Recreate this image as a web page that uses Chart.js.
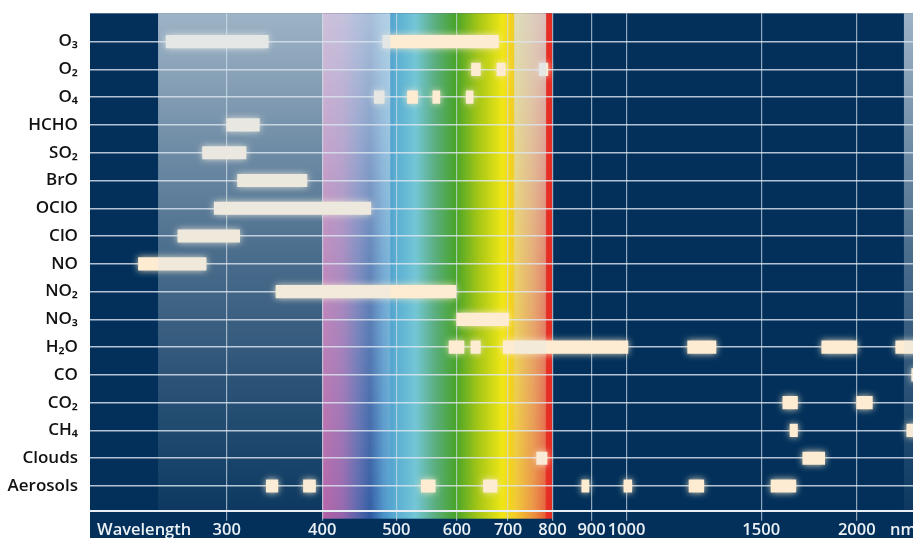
<!DOCTYPE html>
<html>
<head>
<meta charset="utf-8">
<script src="https://cdn.jsdelivr.net/npm/chart.js@4.4.1/dist/chart.umd.min.js"></script>
<style>
  html, body { margin: 0; padding: 0; background: #fff; }
  #wrap { width: 913px; height: 538px; position: relative; }
</style>
</head>
<body>
<div id="wrap"><canvas id="chart"></canvas></div>
<script>
// absorbers, top to bottom
const categories = ['O₃', 'O₂', 'O₄', 'HCHO', 'SO₂', 'BrO', 'OClO', 'ClO', 'NO', 'NO₂', 'NO₃', 'H₂O', 'CO', 'CO₂', 'CH₄', 'Clouds', 'Aerosols'];

// fitting windows in nm, same order as categories
const windows = [
    [[250, 340], [480, 680]],
    [[627, 644], [677, 694], [769, 789]],
    [[468, 482], [517, 533], [558, 570], [617, 630]],
    [[300, 331]],
    [[279, 318]],
    [[310, 382]],
    [[289, 463]],
    [[259, 312]],
    [[230, 282]],
    [[348, 598]],
    [[600, 701]],
    [[586, 613], [626, 644], [690, 1004], [1202, 1309], [1800, 2000], [2249, 2500]],
    [[2360, 2500]],
    [[1601, 1673], [2000, 2096]],
    [[1636, 1673], [2325, 2500]],
    [[763, 787], [1700, 1816]],
    [[338, 350], [378, 392], [539, 562], [650, 677], [874, 893], [992, 1016], [1207, 1262], [1545, 1665]]
];

// x axis ticks (nm) and their labels
const tickValues = [234, 300, 400, 500, 600, 700, 800, 900, 1000, 1500, 2000, 2300];
const tickLabels = ['Wavelength', '300', '400', '500', '600', '700', '800', '900', '1000', '1500', '2000', 'nm'];

// pale instrument windows and visible spectrum (nm)
const paleRanges = [[244, 491], [713, 785], [2305, 3000]];
const visibleRange = [400, 800];
const spectrumStops = [
    [400, 'rgb(182,96,166)'], [425, 'rgb(150,100,172)'], [445, 'rgb(90,100,172)'],
    [462, 'rgb(45,88,160)'], [480, 'rgb(72,142,198)'], [497, 'rgb(88,172,210)'],
    [530, 'rgb(116,198,214)'], [562, 'rgb(90,174,126)'], [598, 'rgb(72,164,42)'],
    [640, 'rgb(166,198,22)'], [688, 'rgb(240,230,22)'], [715, 'rgb(242,202,42)'],
    [755, 'rgb(236,146,62)'], [782, 'rgb(232,96,54)'], [786, 'rgb(230,46,36)'], [800, 'rgb(230,46,36)']
];

const navy = '#02305a';

const barData = [];
windows.forEach((list, i) => {
    list.forEach(range => barData.push({ y: i + 1, x: range }));
});

// background, spectrum and pale windows
const backdrop = {
    id: 'backdrop',
    beforeDraw(chart) {
        const { ctx, chartArea: a } = chart;
        const x = chart.scales.x;
        ctx.save();
        ctx.fillStyle = navy;
        ctx.fillRect(a.left, a.top, chart.width - a.left, chart.height - a.top);
        const x0 = x.getPixelForValue(visibleRange[0]);
        const x1 = x.getPixelForValue(visibleRange[1]);
        const g = ctx.createLinearGradient(x0, 0, x1, 0);
        spectrumStops.forEach(([nm, col]) => {
            g.addColorStop((x.getPixelForValue(nm) - x0) / (x1 - x0), col);
        });
        ctx.fillStyle = g;
        ctx.fillRect(x0, a.top, x1 - x0, a.bottom - a.top + 8);
        ctx.restore();
    },
    afterDatasetsDraw(chart) {
        const { ctx, chartArea: a } = chart;
        const x = chart.scales.x;
        ctx.save();
        paleRanges.forEach(([lo, hi]) => {
            const xl = Math.max(x.getPixelForValue(lo), a.left);
            const xr = Math.min(x.getPixelForValue(hi), a.right);
            const g = ctx.createLinearGradient(0, a.top, 0, a.bottom);
            g.addColorStop(0, 'rgba(215,228,238,0.73)');
            g.addColorStop(0.5, 'rgba(215,228,238,0.33)');
            g.addColorStop(1, 'rgba(215,228,238,0.05)');
            ctx.fillStyle = g;
            ctx.fillRect(xl, a.top, xr - xl, a.bottom - a.top);
        });
        ctx.restore();
    }
};

// soft glow round the bars
const glow = {
    id: 'glow',
    beforeDatasetDraw(chart) {
        chart.ctx.save();
        chart.ctx.shadowColor = 'rgba(255,238,205,0.9)';
        chart.ctx.shadowBlur = 7;
    },
    afterDatasetDraw(chart) {
        chart.ctx.restore();
    }
};

const edgeTick = v => v === tickValues[0] || v === tickValues[tickValues.length - 1];

new Chart(document.getElementById('chart'), {
    type: 'bar',
    data: {
        datasets: [{
            data: barData,
            backgroundColor: '#fdecd2',
            borderWidth: 0,
            barThickness: 12.5
        }]
    },
    options: {
        indexAxis: 'y',
        responsive: true,
        maintainAspectRatio: false,
        animation: false,
        layout: { padding: { top: 13.3, left: 0, right: 0, bottom: 0 } },
        plugins: {
            legend: { display: false },
            tooltip: { enabled: false }
        },
        scales: {
            x: {
                type: 'logarithmic',
                min: 198.8,
                max: 2369,
                bounds: 'data',
                afterBuildTicks: scale => { scale.ticks = tickValues.map(v => ({ value: v })); },
                afterFit: scale => { scale.height = 27.3; scale.paddingLeft = 0; scale.paddingRight = 0; },
                ticks: {
                    autoSkip: false,
                    maxRotation: 0,
                    padding: 0,
                    color: '#eaf0f4',
                    font: { family: '"Open Sans", "Noto Sans", sans-serif', size: 16.5, weight: '600' },
                    callback: v => tickLabels[tickValues.indexOf(v)]
                },
                grid: {
                    color: c => (c.tick && edgeTick(c.tick.value)) ? 'rgba(0,0,0,0)' : 'rgba(205,218,230,0.7)',
                    lineWidth: 1.2,
                    tickLength: 10
                },
                border: { display: true, color: '#e8eef3', width: 2 }
            },
            y: {
                type: 'linear',
                reverse: true,
                offset: false,
                min: -0.02,
                max: 17.89,
                bounds: 'data',
                afterBuildTicks: scale => { scale.ticks = categories.map((c, i) => ({ value: i + 1 })); },
                afterFit: scale => { scale.width = 90; scale.paddingTop = 0; scale.paddingBottom = 0; },
                ticks: {
                    padding: 12,
                    color: '#111',
                    font: { family: '"Open Sans", "Noto Sans", sans-serif', size: 17, weight: '600' },
                    callback: v => categories[v - 1]
                },
                grid: {
                    offset: false,
                    color: 'rgba(225,233,241,0.8)',
                    lineWidth: 1.5,
                    drawTicks: false
                },
                border: { display: false }
            }
        }
    },
    plugins: [backdrop, glow]
});
</script>
</body>
</html>
